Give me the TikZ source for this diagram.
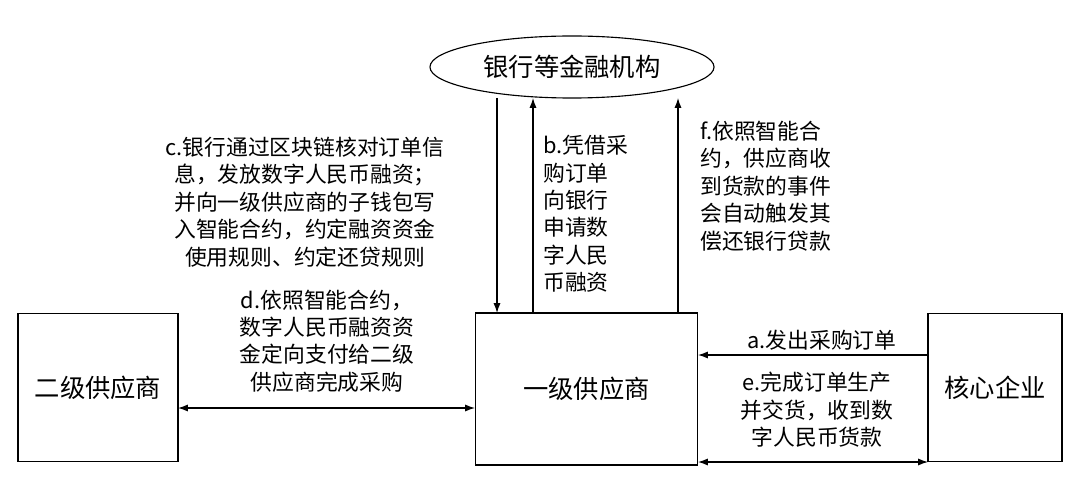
\documentclass[tikz,border=0pt]{standalone}
\usepackage{fontspec}
\setmainfont{Noto Sans CJK SC}
\usetikzlibrary{shapes.geometric,arrows.meta}
\begin{document}
\begin{tikzpicture}
[x=0.025cm,y=-0.025cm,
  boxDecorate/.style={draw,thick,minimum width=0.025cm*#1},%
  lineDecorate/.style={thick,-{Latex[length=7pt,width=5pt]}},%
  bothDecorate/.style={thick,{Latex[length=7pt,width=5pt]}-{Latex[length=7pt,width=5pt]}},%
  labelDecorate/.style={font=\fontsize{15.5}{19.5}\selectfont,inner sep=0pt},%
  boxText/.style={font=\fontsize{18}{22}\selectfont}]
\useasboundingbox (0,0) rectangle (1080,485);
%% nodes
\node (bank) at (572,67) [draw,thick,ellipse,minimum width=7.1cm,minimum height=1.55cm,boxText] {银行等金融机构};
\node (sec) at (98,387.5) [draw,thick,minimum width=4cm,minimum height=3.72cm,boxText] {二级供应商};
\node (fst) at (586.5,389) [draw,thick,minimum width=5.57cm,minimum height=3.8cm,boxText] {一级供应商};
\node (core) at (995,387.5) [draw,thick,minimum width=3.35cm,minimum height=3.72cm,boxText] {核心企业};
%% end points
\coordinate (c1) at (497,98); \coordinate (c2) at (497,313);
\coordinate (b1) at (533,313); \coordinate (b2) at (533,98);
\coordinate (f1) at (678,313); \coordinate (f2) at (678,98);
\coordinate (a1) at (928,355); \coordinate (a2) at (698,355);
\coordinate (e1) at (698,462); \coordinate (e2) at (928,462);
\coordinate (d1) at (178,408); \coordinate (d2) at (475,408);
%% edges
\draw[lineDecorate] (c1) -- (c2);
\draw[lineDecorate] (b1) -- (b2);
\draw[lineDecorate] (f1) -- (f2);
\draw[lineDecorate] (a1) -- (a2);
\draw[bothDecorate] (e1) -- (e2);
\draw[bothDecorate] (d1) -- (d2);
%% labels
\node (cText) at (305,202) [labelDecorate,align=center] {c.银行通过区块链核对订单信\\息，发放数字人民币融资；\\并向一级供应商的子钱包写\\入智能合约，约定融资资金\\使用规则、约定还贷规则};
\node (bText) at (543,214) [labelDecorate,align=left,anchor=west] {b.凭借采\\购订单\\向银行\\申请数\\字人民\\币融资};
\node (fText) at (700,186) [labelDecorate,align=left,anchor=west] {f.依照智能合\\约，供应商收\\到货款的事件\\会自动触发其\\偿还银行贷款};
\node (dText) at (327,341) [labelDecorate,align=center] {d.依照智能合约，\\数字人民币融资资\\金定向支付给二级\\供应商完成采购};
\node (aText) at (822,340) [labelDecorate] {a.发出采购订单};
\node (eText) at (817,410) [labelDecorate,align=center] {e.完成订单生产\\并交货，收到数\\字人民币货款};
\end{tikzpicture}
\end{document}
